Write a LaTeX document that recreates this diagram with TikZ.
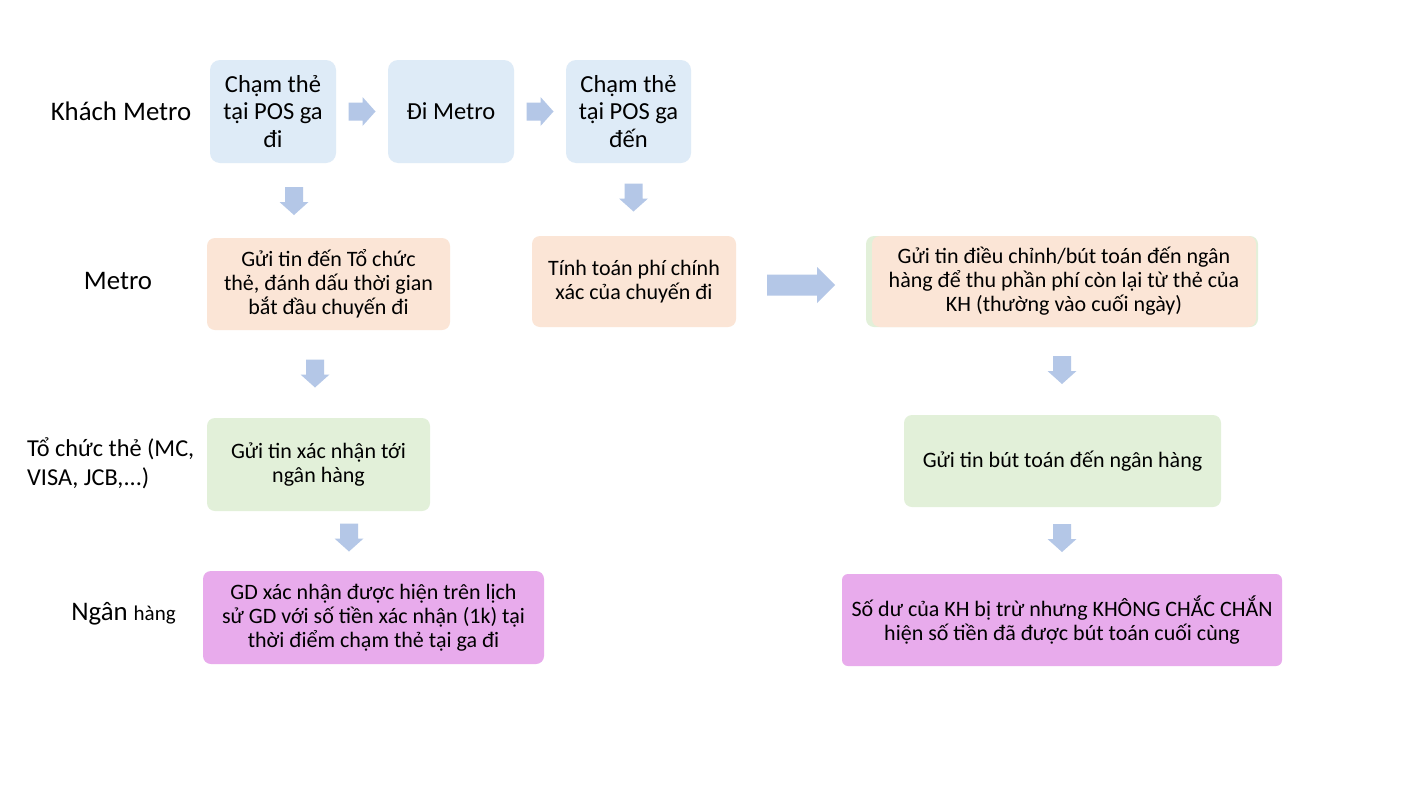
\documentclass[tikz,border=0pt]{standalone}
\usepackage{fontspec}
\setmainfont{Carlito}
\usetikzlibrary{calc}
\definecolor{bluebox}{HTML}{DEEBF7}
\definecolor{orangebox}{HTML}{FBE5D6}
\definecolor{greenbox}{HTML}{E2F0D9}
\definecolor{purplebox}{HTML}{E8ABEC}
\definecolor{arrowfill}{HTML}{B4C7E7}
\begin{document}
\begin{tikzpicture}[x=1pt,y=-1pt,
  base/.style={draw=none, align=center, inner sep=0pt, text=black},
  bluestep/.style={base, fill=bluebox, rounded corners=10pt, minimum width=126pt, minimum height=103pt, font=\fontsize{24.5}{27.5}\selectfont},
  smallbox/.style={base, rounded corners=8pt, font=\fontsize{22}{24}\selectfont},
  lanelabel/.style={align=left, inner sep=0pt, text=black, font=\fontsize{26.8}{29}\selectfont},
  pics/smallright/.style={code={\fill[arrowfill] (-13.5,-9) -- (0.5,-9) -- (0.5,-14.5) -- (13.5,0) -- (0.5,14.5) -- (0.5,9) -- (-13.5,9) -- cycle;}},
  pics/smalldown/.style={code={\fill[arrowfill] (-9,-14) -- (9,-14) -- (9,1) -- (14.5,1) -- (0,14) -- (-14.5,1) -- (-9,1) -- cycle;}},
  pics/bigright/.style={code={\fill[arrowfill] (-34,-10.5) -- (16,-10.5) -- (16,-18) -- (34,0) -- (16,18) -- (16,10.5) -- (-34,10.5) -- cycle;}}
]
\useasboundingbox[fill=white] (0,0) rectangle (1421,798);

% lane labels
\node[lanelabel] (l1) at (121,111) {Khách Metro};
\node[lanelabel] (l2) at (118,281) {Metro};
\node[lanelabel, anchor=west, font=\fontsize{24.3}{29}\selectfont] (l3) at (27,463) {Tổ chức thẻ (MC,\\VISA, JCB,...)};
\node[lanelabel] (l4) at (123.5,614) {Ngân {\fontsize{21}{24}\selectfont hàng}};

% row 1
\node[bluestep] (b1) at (273,111.5) {Chạm thẻ\\tại POS ga\\đi};
\node[bluestep] (b2) at (451,111.5) {Đi Metro};
\node[bluestep, minimum width=125pt] (b3) at (628.5,111.5) {Chạm thẻ\\tại POS ga\\đến};

% row 2
\node[smallbox, fill=orangebox, minimum width=243pt, minimum height=92pt] (o1) at (328.5,284) {Gửi tin đến Tổ chức\\thẻ, đánh dấu thời gian\\bắt đầu chuyến đi};
\node[smallbox, fill=orangebox, minimum width=204pt, minimum height=91pt] (o2) at (634,281.5) {Tính toán phí chính\\xác của chuyến đi};
\node[smallbox, fill=greenbox, minimum width=392pt, minimum height=91pt] (o3g) at (1062,281.5) {};
\node[smallbox, fill=orangebox, minimum width=384pt, minimum height=91pt] (o3) at (1064,281.5) {Gửi tin điều chỉnh/bút toán đến ngân\\hàng để thu phần phí còn lại từ thẻ của\\KH (thường vào cuối ngày)};

% row 3
\node[smallbox, fill=greenbox, minimum width=223pt, minimum height=93pt] (g1) at (318.5,464.5) {Gửi tin xác nhận tới\\ngân hàng};
\node[smallbox, fill=greenbox, minimum width=317pt, minimum height=92pt] (g2) at (1062.5,461) {Gửi tin bút toán đến ngân hàng};

% row 4
\node[smallbox, fill=purplebox, minimum width=341pt, minimum height=93pt] (p1) at (373.5,617.5) {GD xác nhận được hiện trên lịch\\sử GD với số tiền xác nhận (1k) tại\\thời điểm chạm thẻ tại ga đi};
\node[smallbox, fill=purplebox, rounded corners=6pt, minimum width=440pt, minimum height=92pt] (p2) at (1062,620) {Số dư của KH bị trừ nhưng KHÔNG CHẮC CHẮN\\hiện số tiền đã được bút toán cuối cùng};

% block arrows
\pic at ($(b1.east)!0.5!(b2.west)$) {smallright};
\pic at ($(b2.east)!0.5!(b3.west)$) {smallright};
\pic at (294,201) {smalldown};
\pic at (633.5,197.5) {smalldown};
\pic at (801,285) {bigright};
\pic at (315,373.5) {smalldown};
\pic at (349,537.5) {smalldown};
\pic at (1062,370) {smalldown};
\pic at (1062,538) {smalldown};
\end{tikzpicture}
\end{document}
